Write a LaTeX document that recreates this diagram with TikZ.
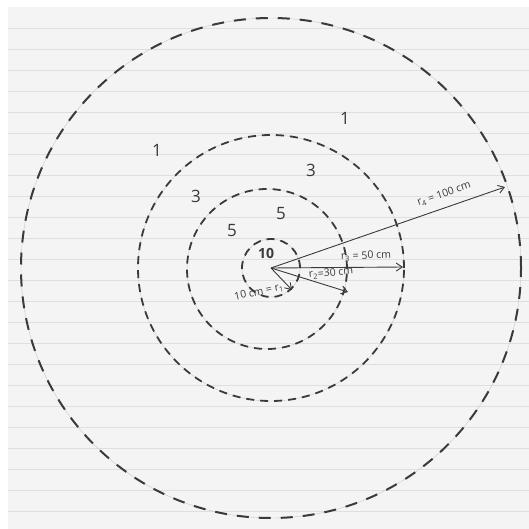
\documentclass[tikz,border=0pt]{standalone}
\usepackage{fontspec}
\setmainfont{Open Sans}
\usetikzlibrary{arrows.meta}
\definecolor{paper}{HTML}{F4F4F4}
\definecolor{rulec}{HTML}{DFDFDF}
\definecolor{ink}{HTML}{3A3A3A}
\definecolor{pencil}{HTML}{C8C8C8}
\tikzset{
  rulestyle/.style={draw=rulec, line width=0.9pt},
  guide/.style={draw=pencil, line width=0.4pt},
  ringouter/.style={draw=ink, line width=2pt, dash pattern=on 12pt off 10pt},
  ringinner/.style={draw=ink, line width=1.8pt, dash pattern=on 8pt off 6pt},
  radius arrow/.style={draw=ink, line width=0.9pt, -{Straight Barb[length=6pt,width=8pt]}},
  zone/.style={text=ink, font=\fontsize{17}{17}\selectfont, inner sep=0pt},
  center label/.style={text=ink, font=\bfseries\fontsize{14}{14}\selectfont, inner sep=0pt},
  dim label/.style={text=ink, font=\fontsize{10.5}{10.5}\selectfont, inner sep=0pt}
}
\begin{document}
\begin{tikzpicture}[x=1pt,y=-1pt]
\useasboundingbox (0,0) rectangle (529,529);
\fill[white] (0,0) rectangle (529,529);
\fill[paper] (8,7) rectangle (529,529);
\foreach \k in {0,...,23} \draw[rulestyle] (8,{28+21*\k}) -- (529,{28+21*\k});

% centre
\coordinate (O) at (271,268);
\coordinate (c2) at (267,269);

% faint compass lines
\draw[guide] (O) circle[radius=29pt];
\draw[guide] (c2) circle[radius=80pt];
\draw[guide] (O) circle[radius=133pt];
\draw[guide] (O) circle[radius=250pt];

% dashed rings
\draw[ringinner] (O) circle[radius=29pt];
\draw[ringinner] (c2) circle[radius=80pt];
\draw[ringinner] (O) circle[radius=133pt];
\draw[ringouter] (O) circle[radius=250pt];

% arrow tips
\coordinate (t1) at (292,290);
\coordinate (t2) at (348,292);
\coordinate (t3) at (403,267);
\coordinate (t4) at (505,187);
\draw[radius arrow] (O) -- (t1);
\draw[radius arrow] (O) -- (t2);
\draw[radius arrow] (O) -- (t3);
\draw[radius arrow] (O) -- (t4);

% zone scores
\node[zone] (a1) at (157,150) {1};
\node[zone] (b1) at (345,118) {1};
\node[zone] (a3) at (196,196) {3};
\node[zone] (b3) at (311,170) {3};
\node[zone] (a5) at (232,231) {5};
\node[zone] (b5) at (281,214) {5};
\node[center label] (c10) at (266,253) {10};

% dimension labels
\node[dim label, rotate=12] (l1) at (259,292) {10 cm = r\textsubscript{1}};
\node[dim label, rotate=5] (l2) at (331,273) {r\textsubscript{2}=30 cm};
\node[dim label, rotate=2] (l3) at (366,256) {r\textsubscript{3} = 50 cm};
\node[dim label, rotate=19] (l4) at (444,194) {r\textsubscript{4} = 100 cm};
\end{tikzpicture}
\end{document}
